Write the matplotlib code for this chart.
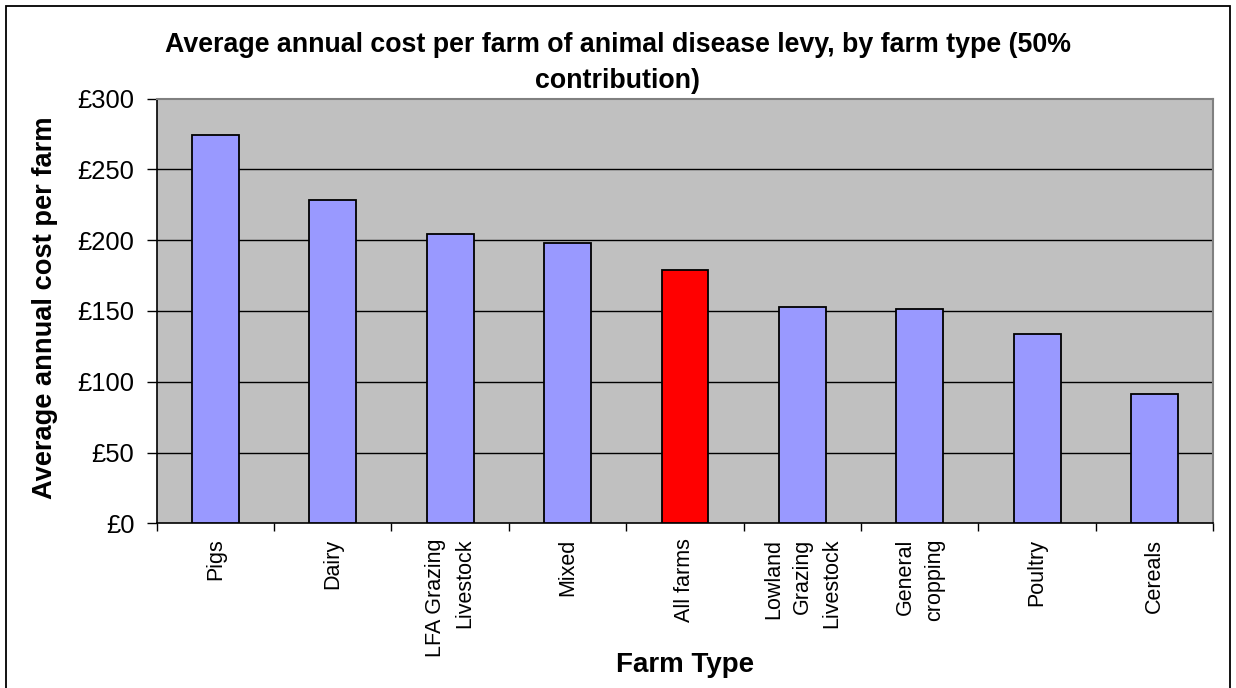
import matplotlib
matplotlib.use("Agg")
import matplotlib.pyplot as plt
from matplotlib.patches import Rectangle

# values (GBP per farm per year)
farm_types = ["Pigs", "Dairy", "LFA Grazing\nLivestock", "Mixed", "All farms",
              "Lowland\nGrazing\nLivestock", "General\ncropping", "Poultry", "Cereals"]
cost = [274, 228, 204, 198, 179, 153, 151, 134, 91]
highlight = "All farms"
yticks = [0, 50, 100, 150, 200, 250, 300]

plt.rcParams['font.family'] = ['Liberation Sans', 'DejaVu Sans']

W, H = 1236, 688
fig = plt.figure(figsize=(W / 100, H / 100), dpi=100)
ax = fig.add_axes([156.7 / W, 1 - 523.3 / H, (1213.3 - 156.7) / W, (523.3 - 98.5) / H])
ax.set_facecolor("#C0C0C0")

colors = ["#FF0000" if f == highlight else "#9999FF" for f in farm_types]
x = list(range(len(farm_types)))
ax.bar(x, cost, width=0.40, color=colors, edgecolor="black", linewidth=1.3, zorder=3)

ax.set_xlim(-0.5, len(farm_types) - 0.5)
ax.set_ylim(0, 300)
ax.set_yticks(yticks)
ax.set_yticklabels(["£%d" % v for v in yticks], fontsize=18.4)
for v in yticks[1:-1]:
    ax.axhline(v, color="black", linewidth=1.0, zorder=1)

ax.set_xticks(x)
ax.set_xticklabels(farm_types, rotation=90, fontsize=15.5, va="top", ha="center",
                   multialignment="right", linespacing=1.5)
ax.set_xticks([i - 0.5 for i in range(len(farm_types) + 1)], minor=True)
ax.tick_params(axis="x", which="major", length=0, pad=11)
ax.tick_params(axis="x", which="minor", length=6, width=1, color="black")
ax.tick_params(axis="y", length=7, width=1, pad=9, color="black")

for s in ["top", "right"]:
    ax.spines[s].set_color("#808080")
    ax.spines[s].set_linewidth(1.5)
for s in ["left", "bottom"]:
    ax.spines[s].set_color("black")
    ax.spines[s].set_linewidth(1.2)

fig.text(618 / W, 1 - 63 / H,
         "Average annual cost per farm of animal disease levy, by farm type (50%\ncontribution)",
         ha="center", va="center", fontsize=19.3, fontweight="bold", linespacing=1.55)
fig.text(45 / W, 1 - 307.5 / H, "Average annual cost per farm", rotation=90,
         ha="center", va="center", fontsize=19.6, fontweight="bold")
fig.text(685 / W, 1 - 665 / H, "Farm Type", ha="center", va="center",
         fontsize=20, fontweight="bold")

# outer chart frame
fig.patches.append(Rectangle((6 / W, -0.05), (1230 - 6) / W, 1 - 6 / H + 0.05,
                             transform=fig.transFigure, fill=False,
                             edgecolor="black", linewidth=1.3))

fig.savefig("out.png", dpi=100)
